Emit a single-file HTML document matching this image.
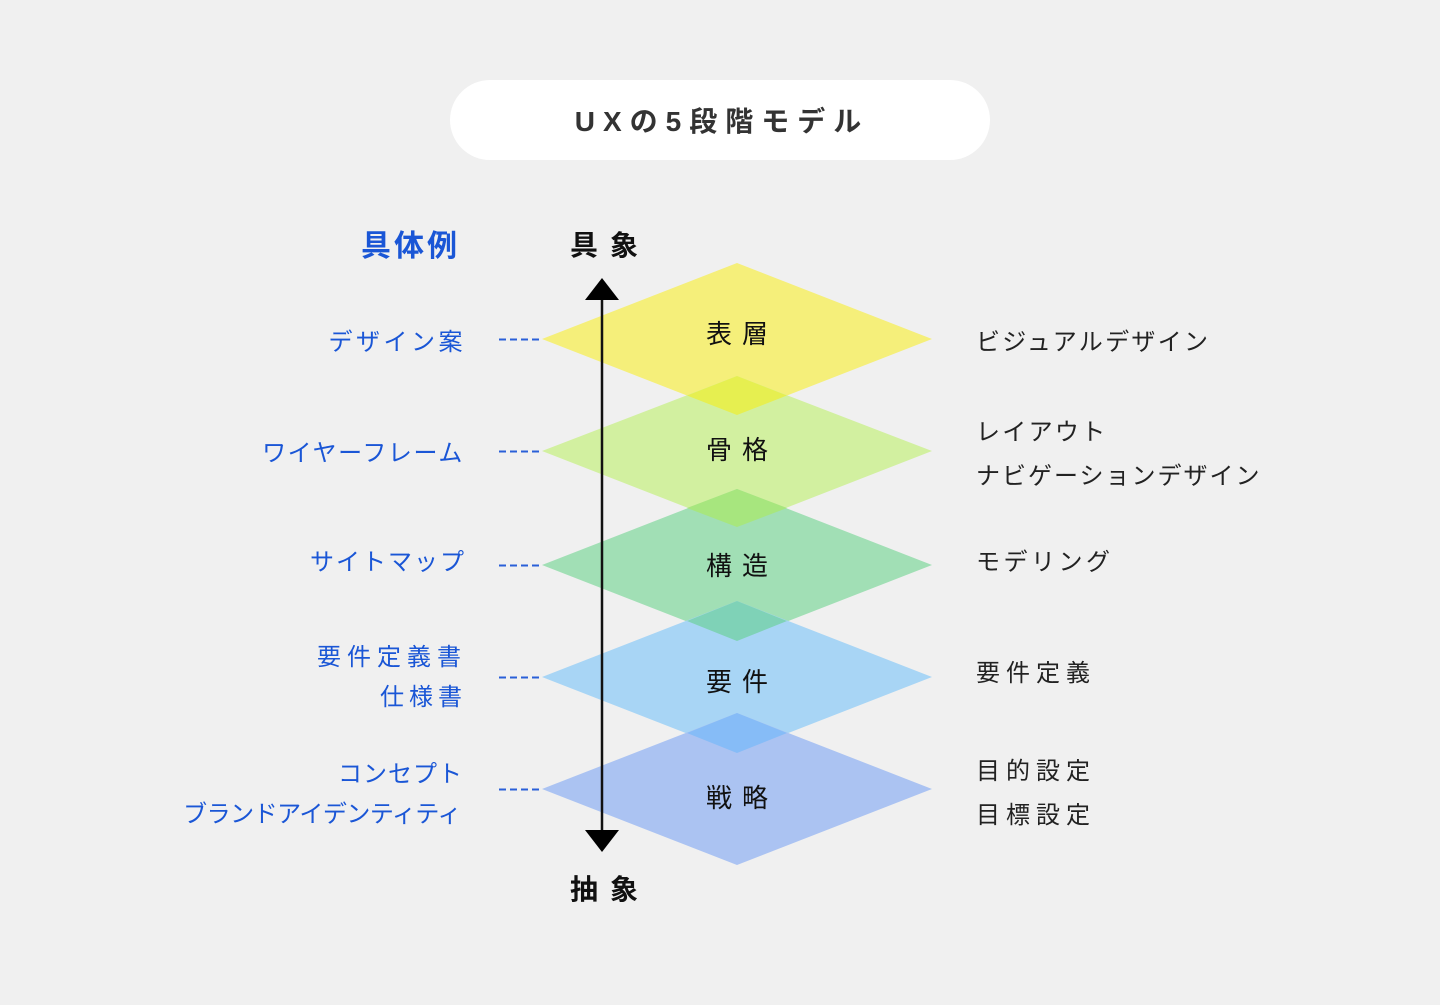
<!DOCTYPE html>
<html><head><meta charset="utf-8"><style>
html,body{margin:0;padding:0;background:#f0f0f0;}
svg text{font-family:"Liberation Sans","Noto Sans CJK JP",sans-serif;}
</style></head><body>
<svg width="1440" height="1000" viewBox="0 0 1440 1000" xmlns="http://www.w3.org/2000/svg">
<rect width="1440" height="1000" fill="#f0f0f0"/>
<rect x="450" y="80" width="540" height="80" rx="40" fill="#ffffff"/>
<text x="722" y="131" text-anchor="middle" font-size="28" font-weight="bold" fill="#333" letter-spacing="8">UXの5段階モデル</text>

<polygon points="737,263 932,339 737,415 542,339" fill="#f5ef7a"/>
<polygon points="737,376 932,451 737,527 542,451" fill="#d2f0a0"/>
<polygon points="737,376 787,395.5 737,415 687,395.5" fill="#e6ef50"/>
<polygon points="737,489 932,565 737,641 542,565" fill="#a1dfb5"/>
<polygon points="737,489 787,508 737,527 687,508" fill="#a7e67e"/>
<polygon points="737,601 932,677 737,753 542,677" fill="#a8d5f5"/>
<polygon points="737,601 787,621 737,641 687,621" fill="#7fd2b7"/>
<polygon points="737,713 932,789 737,865 542,789" fill="#abc3f2"/>
<polygon points="737,713 787,733 737,753 687,733" fill="#86bcf7"/>

<line x1="602" y1="298" x2="602" y2="834" stroke="#111" stroke-width="2.5"/>
<polygon points="602,278 619,300 585,300" fill="#000"/>
<polygon points="602,852 619,830 585,830" fill="#000"/>

<g font-size="26" fill="#111" text-anchor="middle" letter-spacing="10">
<text x="742" y="343">表層</text>
<text x="742" y="459">骨格</text>
<text x="742" y="575">構造</text>
<text x="742" y="691">要件</text>
<text x="742" y="807">戦略</text>
</g>
<g font-size="28" font-weight="bold" fill="#111" text-anchor="middle" letter-spacing="12">
<text x="610" y="255">具象</text>
<text x="610" y="899">抽象</text>
</g>
<text x="460" y="256" text-anchor="end" font-size="30" font-weight="bold" fill="#1a56d6" letter-spacing="3">具体例</text>

<g stroke="#2a5fd8" stroke-width="2" stroke-dasharray="7,4">
<line x1="499" y1="339.5" x2="543" y2="339.5"/>
<line x1="499" y1="451.5" x2="543" y2="451.5"/>
<line x1="499" y1="565.5" x2="543" y2="565.5"/>
<line x1="499" y1="677.5" x2="543" y2="677.5"/>
<line x1="499" y1="789.5" x2="543" y2="789.5"/>
</g>
<g font-size="24" fill="#1a56d6" text-anchor="end">
<text x="466" y="350" letter-spacing="3.5">デザイン案</text>
<text x="464" y="461" letter-spacing="1.6">ワイヤーフレーム</text>
<text x="466" y="570" letter-spacing="2">サイトマップ</text>
<text x="467" y="665" letter-spacing="6">要件定義書</text>
<text x="467" y="705" letter-spacing="5">仕様書</text>
<text x="463" y="782" letter-spacing="1">コンセプト</text>
<text x="461" y="822" letter-spacing="-0.5">ブランドアイデンティティ</text>
</g>
<g font-size="24" fill="#222">
<text x="976" y="350" letter-spacing="2.3">ビジュアルデザイン</text>
<text x="976" y="440" letter-spacing="2.3">レイアウト</text>
<text x="976" y="484" letter-spacing="2">ナビゲーションデザイン</text>
<text x="976" y="570" letter-spacing="3.5">モデリング</text>
<text x="976" y="681" letter-spacing="6">要件定義</text>
<text x="976" y="779" letter-spacing="6">目的設定</text>
<text x="976" y="823" letter-spacing="6">目標設定</text>
</g>
</svg>
</body></html>
